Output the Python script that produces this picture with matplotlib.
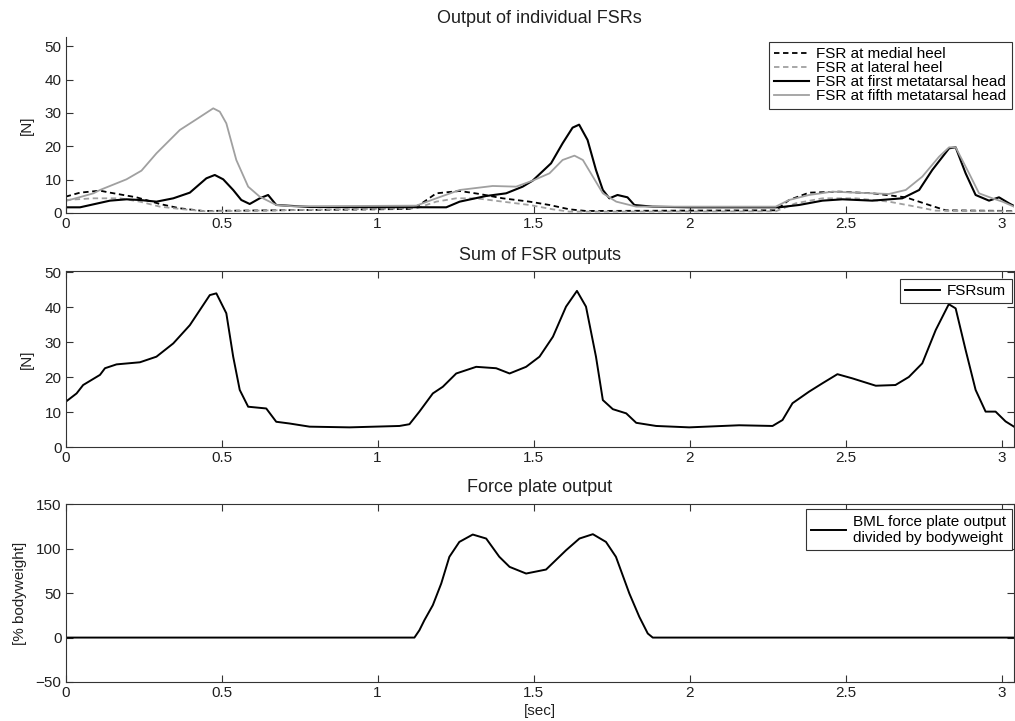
import matplotlib.pyplot as plt
import numpy as np

plt.rcParams['font.family'] = ['Liberation Sans', 'DejaVu Sans']

#############################################################################
# Output of individual FSRs  (time in sec, force in N)

t_medial = [0, 0.046, 0.110, 0.142, 0.227, 0.302, 0.366, 0.441, 1.102, 1.134, 1.188, 1.263, 1.327,
            1.401, 1.487, 1.551, 1.615, 1.668, 2.276, 2.319, 2.383, 2.479, 2.586, 2.693, 2.768, 2.821, 3.04]
medial_heel = [4.9, 6.1, 6.7, 6.1, 4.7, 2.7, 1.4, 0.6, 1.2, 2.4, 5.9, 6.6, 5.7,
               4.4, 3.4, 2.4, 1.1, 0.6, 0.8, 3.9, 6.1, 6.4, 5.9, 4.7, 2.4, 0.8, 0.6]

t_lateral = [0, 0.089, 0.174, 0.238, 0.302, 0.377, 0.451, 1.124, 1.188, 1.252, 1.316, 1.401, 1.487,
             1.561, 1.615, 2.276, 2.340, 2.426, 2.533, 2.639, 2.725, 2.789, 3.04]
lateral_heel = [3.9, 4.4, 4.4, 3.4, 1.9, 1.1, 0.5, 1.4, 3.4, 4.4, 4.4, 3.4, 2.4,
                1.1, 0.4, 0.5, 2.9, 4.4, 4.4, 3.4, 1.9, 0.7, 0.5]

t_first = [0, 0.046, 0.142, 0.195, 0.238, 0.291, 0.345, 0.398, 0.451, 0.478, 0.505, 0.537, 0.563,
           0.590, 0.622, 0.649, 0.675, 0.729, 0.782, 1.220, 1.263, 1.348, 1.412, 1.465, 1.497, 1.556,
           1.593, 1.625, 1.646, 1.673, 1.700, 1.722, 1.743, 1.769, 1.801, 1.823, 1.881, 2.0, 2.287,
           2.351, 2.426, 2.490, 2.586, 2.682, 2.736, 2.778, 2.832, 2.853, 2.885, 2.917, 2.960, 2.992,
           3.024, 3.04]
first_meta = [1.7, 1.7, 3.7, 4.1, 3.9, 3.4, 4.4, 6.1, 10.4, 11.4, 10.1, 6.9, 3.9,
              2.7, 4.4, 5.4, 2.4, 2.1, 1.8, 1.7, 3.4, 5.1, 5.9, 7.9, 9.7, 14.9,
              20.9, 25.6, 26.5, 21.9, 12.9, 6.9, 4.4, 5.4, 4.7, 2.4, 1.9, 1.7, 1.7,
              2.4, 3.7, 4.1, 3.7, 4.4, 6.9, 12.9, 19.4, 19.7, 11.9, 5.4, 3.7, 4.7,
              2.9, 2.1]

t_fifth = [0, 0.055, 0.089, 0.110, 0.195, 0.243, 0.291, 0.366, 0.419, 0.473, 0.494, 0.515, 0.547,
           0.585, 0.622, 0.675, 0.729, 1.124, 1.188, 1.263, 1.369, 1.444, 1.497, 1.551, 1.593,
           1.631, 1.658, 1.690, 1.722, 1.765, 1.829, 2.276, 2.319, 2.383, 2.458, 2.533, 2.639,
           2.693, 2.746, 2.800, 2.832, 2.853, 2.896, 2.928, 2.971, 3.003, 3.04]
fifth_meta = [3.6, 5.0, 5.9, 6.9, 10.1, 12.7, 17.9, 24.9, 28.1, 31.4, 30.4, 26.9, 15.9,
              7.9, 4.9, 2.4, 2.0, 2.2, 4.4, 6.9, 8.1, 7.9, 9.7, 11.9, 15.9,
              17.2, 15.9, 10.9, 5.9, 3.4, 1.9, 1.9, 3.9, 5.4, 6.4, 6.1, 5.7,
              6.9, 10.9, 16.9, 19.7, 19.7, 11.9, 5.9, 4.4, 3.4, 1.9]

# Sum of FSR outputs
t_sum = [0, 0.035, 0.056, 0.110, 0.126, 0.163, 0.238, 0.291, 0.345, 0.398, 0.430, 0.462, 0.483,
         0.515, 0.537, 0.558, 0.585, 0.643, 0.675, 0.718, 0.782, 0.910, 1.070, 1.102, 1.134,
         1.177, 1.209, 1.252, 1.316, 1.380, 1.423, 1.476, 1.519, 1.562, 1.604, 1.639, 1.668,
         1.700, 1.722, 1.754, 1.797, 1.829, 1.893, 1.999, 2.159, 2.266, 2.298, 2.330, 2.383,
         2.426, 2.474, 2.522, 2.597, 2.660, 2.703, 2.746, 2.789, 2.831, 2.853, 2.885, 2.917,
         2.949, 2.981, 3.013, 3.04]
fsr_sum = [13.0, 15.4, 17.8, 20.7, 22.6, 23.7, 24.3, 25.9, 29.7, 34.9, 39.2, 43.5, 44.0,
           38.3, 25.9, 16.4, 11.6, 11.1, 7.3, 6.8, 5.9, 5.7, 6.1, 6.6, 10.2,
           15.4, 17.3, 21.1, 23.0, 22.6, 21.1, 23.0, 25.9, 31.6, 40.2, 44.7, 40.2,
           25.9, 13.5, 10.9, 9.7, 7.0, 6.1, 5.7, 6.3, 6.1, 7.8, 12.6, 15.9,
           18.3, 20.9, 19.7, 17.6, 17.8, 20.1, 24.0, 33.5, 40.9, 39.7, 27.8, 16.4,
           10.2, 10.2, 7.4, 5.9]

# Force plate output (% bodyweight)
t_plate = [0, 1.118, 1.134, 1.150, 1.177, 1.204, 1.230, 1.262, 1.305, 1.348, 1.390, 1.423, 1.476,
           1.540, 1.604, 1.647, 1.690, 1.732, 1.764, 1.807, 1.839, 1.866, 1.882, 3.04]
force_plate = [0, 0, 8.3, 19.6, 36.5, 60.9, 90.9, 107.7, 116.0, 111.5, 91.0, 79.6, 72.1,
               76.6, 98.3, 111.5, 116.4, 107.7, 90.9, 49.6, 23.3, 4.6, 0, 0]

x_ticks = [0, 0.5, 1, 1.5, 2, 2.5, 3]
x_ticklabels = ['0', '0.5', '1', '1.5', '2', '2.5', '3']

#############################################################################

gray = '#a0a0a0'
txt = '#202020'
fs = 11
fs_title = 13

fig = plt.figure(figsize=(10.15, 7.21), dpi=100)
ax1 = fig.add_axes([0.0647, 0.7046, 0.9343, 0.2441])
ax2 = fig.add_axes([0.0647, 0.3796, 0.9343, 0.2446])
ax3 = fig.add_axes([0.0647, 0.0541, 0.9343, 0.2464])


def style(ax, ylim, yticks):
    ax.set_xlim(0, 3.04)
    ax.set_ylim(*ylim)
    ax.set_xticks(x_ticks)
    ax.set_xticklabels(x_ticklabels)
    ax.set_yticks(yticks)
    ax.tick_params(direction='in', length=5, width=0.8, colors='#333333', labelcolor=txt,
                   labelsize=fs, top=True, right=True, pad=3)
    for s in ax.spines.values():
        s.set_color('#333333')
        s.set_linewidth(0.8)


leg_kw = dict(loc='upper right', fancybox=False, framealpha=1, edgecolor='#333333',
              fontsize=fs, borderpad=0.35, labelspacing=0.0, handlelength=2.3,
              handletextpad=0.45, borderaxespad=0.15)

# top plot
ax1.plot(t_medial, medial_heel, color='black', ls=(0, (3, 2)), lw=1.3, label='FSR at medial heel')
ax1.plot(t_lateral, lateral_heel, color=gray, ls=(0, (3, 2)), lw=1.3, label='FSR at lateral heel')
ax1.plot(t_first, first_meta, color='black', lw=1.5, label='FSR at first metatarsal head')
ax1.plot(t_fifth, fifth_meta, color=gray, lw=1.3, label='FSR at fifth metatarsal head')
style(ax1, (0, 52.8), [0, 10, 20, 30, 40, 50])
ax1.spines['top'].set_visible(False)
ax1.spines['right'].set_visible(False)
ax1.tick_params(top=False, right=False)
ax1.set_ylabel('[N]', fontsize=fs, color=txt, labelpad=8)
ax1.set_title('Output of individual FSRs', fontsize=fs_title, color=txt, pad=10)
l1 = ax1.legend(bbox_to_anchor=(1.0, 0.985), **leg_kw)
l1.get_frame().set_linewidth(0.8)

# middle plot
ax2.plot(t_sum, fsr_sum, color='black', lw=1.4, label='FSRsum')
style(ax2, (0, 50.4), [0, 10, 20, 30, 40, 50])
ax2.set_ylabel('[N]', fontsize=fs, color=txt, labelpad=8)
ax2.set_title('Sum of FSR outputs', fontsize=fs_title, color=txt, pad=8)
l2 = ax2.legend(bbox_to_anchor=(1.0, 0.97), **leg_kw)
l2.get_frame().set_linewidth(0.8)

# bottom plot
ax3.plot(t_plate, force_plate, color='black', lw=1.4,
         label='BML force plate output\ndivided by bodyweight')
style(ax3, (-50, 150), [-50, 0, 50, 100, 150])
ax3.set_ylabel('[% bodyweight]', fontsize=fs, color=txt, labelpad=6)
ax3.set_xlabel('[sec]', fontsize=fs, color=txt, labelpad=3)
ax3.set_title('Force plate output', fontsize=fs_title, color=txt, pad=9)
l3 = ax3.legend(bbox_to_anchor=(1.0, 0.985), **leg_kw)
l3.get_frame().set_linewidth(0.8)

fig.savefig('out.png', dpi=100)
